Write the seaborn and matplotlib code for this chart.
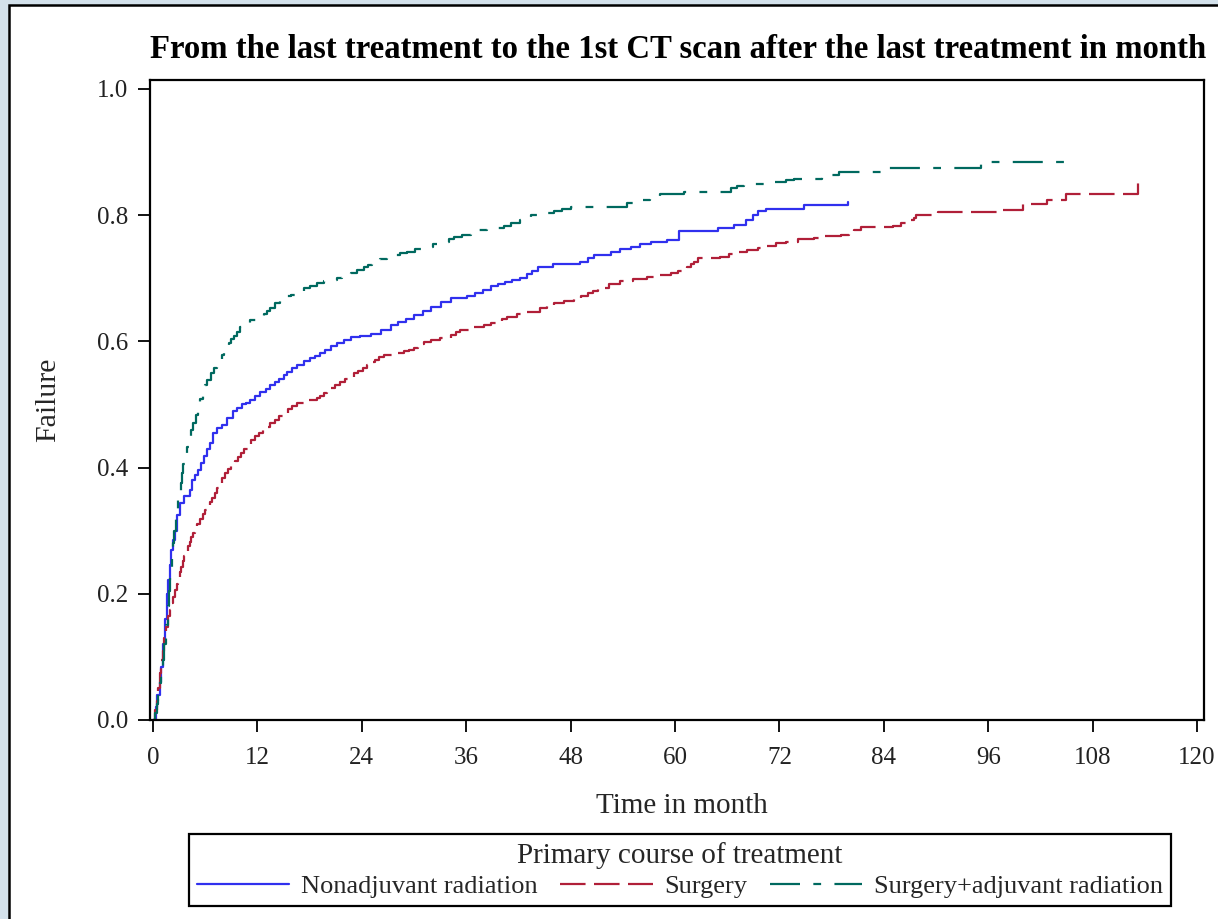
import numpy as np
import pandas as pd
import matplotlib
matplotlib.use("Agg")
import matplotlib.pyplot as plt
from matplotlib.lines import Line2D
from matplotlib.patches import Rectangle
import seaborn as sns

# ---------------- data ----------------
groups = ["Nonadjuvant radiation", "Surgery", "Surgery+adjuvant radiation"]

t_nonadj = [0, 0.3, 0.5, 0.75, 0.96, 1.2, 1.4, 1.6, 1.73, 1.9, 2.1, 2.3, 2.5, 2.8, 3.07, 3.6,
            4.2, 4.45, 4.8, 5.2, 5.5, 5.8, 6.2, 6.5, 6.9, 7.4, 7.9, 8.5, 9.2, 9.7, 10.2, 10.7,
            11.2, 11.7, 12.3, 13.0, 13.5, 14.0, 14.5, 15.0, 15.4, 16.0, 16.6, 17.3, 18.0,
            18.6, 19.2, 19.8, 20.5, 21.1, 21.9, 22.7, 23.8, 25.0, 26.2, 27.3, 28.2, 29.1,
            30.0, 31.0, 32.0, 33.1, 34.2, 36.1, 37.0, 37.9, 38.8, 39.7, 40.5, 41.3, 42.2,
            43.0, 43.6, 44.2, 46.0, 49.1, 50.0, 50.7, 52.6, 53.7, 54.9, 56.0, 57.2, 59.1,
            60.4, 64.9, 66.8, 68.1, 69.0, 69.5, 70.4, 74.8, 79.9]
f_nonadj = [0, 0.02, 0.04, 0.06, 0.084, 0.12, 0.16, 0.2, 0.222, 0.245, 0.27, 0.285, 0.30,
            0.325, 0.344, 0.355, 0.364, 0.38, 0.388, 0.396, 0.407, 0.418, 0.43, 0.439, 0.455,
            0.462, 0.468, 0.478, 0.49, 0.495, 0.50, 0.503, 0.507, 0.513, 0.52, 0.525, 0.53,
            0.535, 0.54, 0.546, 0.552, 0.558, 0.562, 0.568, 0.573, 0.577, 0.581, 0.586,
            0.592, 0.597, 0.602, 0.607, 0.609, 0.612, 0.618, 0.626, 0.63, 0.636, 0.642,
            0.648, 0.655, 0.662, 0.669, 0.671, 0.677, 0.682, 0.687, 0.69, 0.694, 0.697, 0.70,
            0.707, 0.712, 0.718, 0.722, 0.726, 0.732, 0.737, 0.742, 0.746, 0.75, 0.754, 0.758,
            0.761, 0.774, 0.779, 0.784, 0.792, 0.80, 0.806, 0.81, 0.816, 0.821]

t_surg = [0, 0.2, 0.4, 0.6, 0.8, 0.96, 1.1, 1.3, 1.5, 1.73, 1.9, 2.1, 2.3, 2.5, 2.7, 2.9, 3.1,
          3.26, 3.45, 3.6, 3.8, 4.03, 4.2, 4.4, 4.6, 4.8, 5.1, 5.4, 5.7, 5.95, 6.2, 6.5, 6.8,
          7.1, 7.35, 7.6, 7.9, 8.25, 8.6, 9.0, 9.4, 9.8, 10.1, 10.5, 10.9, 11.3, 11.7, 12.2,
          12.6, 13.1, 13.5, 14.0, 14.5, 15.0, 15.5, 16.0, 16.6, 17.3, 18.8, 19.2, 19.6, 20.0,
          20.4, 20.9, 21.5, 22.1, 22.7, 23.1, 23.6, 24.1, 24.6, 25.0, 25.5, 26.0, 26.5, 27.6,
          28.8, 29.4, 30.0, 30.5, 31.1, 32.0, 33.0, 34.2, 34.8, 35.3, 36.6, 38.0, 38.8, 39.5,
          40.1, 40.7, 41.8, 43.0, 44.5, 45.3, 46.1, 47.2, 48.4, 49.2, 50.0, 50.6, 51.1, 52.4,
          53.7, 55.2, 56.8, 58.1, 59.5, 60.3, 61.0, 61.4, 61.8, 62.2, 62.6, 65.2, 66.2, 67.2,
          68.3, 69.5, 70.4, 71.6, 72.7, 74.1, 76.0, 76.6, 79.1, 80.0, 80.6, 81.4, 85.0, 86.0,
          86.5, 87.5, 87.7, 90.2, 97.3, 100.0, 102.8, 104.9, 113.2]
f_surg = [0, 0.016, 0.03, 0.05, 0.075, 0.095, 0.11, 0.13, 0.148, 0.164, 0.175, 0.185, 0.195,
          0.206, 0.216, 0.226, 0.235, 0.243, 0.252, 0.26, 0.268, 0.275, 0.282, 0.29, 0.296,
          0.301, 0.31, 0.318, 0.326, 0.333, 0.339, 0.345, 0.352, 0.359, 0.367, 0.375, 0.383,
          0.391, 0.398, 0.405, 0.411, 0.417, 0.423, 0.43, 0.437, 0.444, 0.45, 0.455, 0.46,
          0.465, 0.47, 0.476, 0.481, 0.486, 0.492, 0.497, 0.502, 0.507, 0.51, 0.514, 0.518,
          0.522, 0.526, 0.53, 0.535, 0.54, 0.544, 0.549, 0.553, 0.558, 0.563, 0.567, 0.571,
          0.575, 0.578, 0.581, 0.584, 0.587, 0.59, 0.595, 0.599, 0.602, 0.605, 0.61, 0.614,
          0.618, 0.622, 0.626, 0.629, 0.632, 0.636, 0.639, 0.643, 0.647, 0.652, 0.656, 0.66,
          0.664, 0.668, 0.672, 0.676, 0.68, 0.684, 0.69, 0.695, 0.699, 0.702, 0.705, 0.708,
          0.711, 0.714, 0.718, 0.722, 0.726, 0.732, 0.734, 0.738, 0.742, 0.745, 0.748, 0.751,
          0.755, 0.758, 0.762, 0.763, 0.767, 0.769, 0.773, 0.777, 0.781, 0.783, 0.788, 0.792,
          0.796, 0.80, 0.805, 0.808, 0.817, 0.824, 0.834, 0.854]

t_adj = [0, 0.2, 0.4, 0.6, 0.8, 0.96, 1.1, 1.3, 1.5, 1.73, 1.85, 2.0, 2.15, 2.3, 2.45, 2.6,
         2.75, 2.88, 3.1, 3.2, 3.3, 3.5, 3.7, 3.95, 4.2, 4.4, 4.6, 4.9, 5.2, 5.45, 5.7, 5.95,
         6.2, 6.7, 7.0, 7.3, 7.6, 7.9, 8.2, 8.5, 8.75, 9.0, 9.3, 9.6, 10.0, 10.6, 11.2, 12.0,
         12.7, 13.1, 13.5, 14.0, 14.6, 15.2, 15.8, 16.5, 17.3, 18.0, 18.8, 19.7, 20.7, 21.2,
         21.7, 22.2, 22.7, 23.5, 24.2, 24.7, 25.2, 25.6, 26.1, 26.9, 27.7, 28.4, 29.2, 30.1,
         31.1, 32.2, 33.4, 34.0, 34.6, 35.5, 36.5, 37.4, 38.4, 40.3, 41.2, 42.2, 42.8, 43.4,
         44.8, 46.1, 47.0, 48.0, 50.3, 54.5, 55.2, 56.0, 57.1, 58.3, 61.0, 66.4, 67.1, 67.9,
         70.8, 72.7, 73.7, 76.9, 78.9, 84.2, 95.2, 96.3, 105.1]
f_adj = [0, 0.011, 0.025, 0.04, 0.058, 0.074, 0.095, 0.12, 0.15, 0.18, 0.205, 0.23, 0.255,
         0.28, 0.30, 0.32, 0.335, 0.349, 0.36, 0.375, 0.391, 0.405, 0.417, 0.433, 0.449,
         0.46, 0.47, 0.484, 0.497, 0.509, 0.52, 0.53, 0.539, 0.55, 0.558, 0.565, 0.572, 0.578,
         0.585, 0.592, 0.598, 0.603, 0.609, 0.615, 0.622, 0.628, 0.634, 0.639, 0.644, 0.648,
         0.652, 0.66, 0.668, 0.671, 0.674, 0.679, 0.684, 0.688, 0.692, 0.695, 0.697, 0.70,
         0.703, 0.706, 0.708, 0.713, 0.717, 0.721, 0.725, 0.728, 0.731, 0.734, 0.737, 0.74,
         0.742, 0.746, 0.75, 0.754, 0.758, 0.762, 0.765, 0.769, 0.772, 0.776, 0.779, 0.783,
         0.788, 0.792, 0.796, 0.80, 0.803, 0.806, 0.809, 0.812, 0.813, 0.819, 0.822, 0.824,
         0.829, 0.833, 0.837, 0.843, 0.846, 0.849, 0.852, 0.855, 0.857, 0.864, 0.868, 0.874,
         0.881, 0.884, 0.895]

x_ticks = [0, 12, 24, 36, 48, 60, 72, 84, 96, 108, 120]
y_ticks = [0.0, 0.2, 0.4, 0.6, 0.8, 1.0]

title = "From the last treatment to the 1st CT scan after the last treatment in month"
x_label = "Time in month"
y_label = "Failure"
legend_title = "Primary course of treatment"

# ---------------- styling ----------------
colors = {"Nonadjuvant radiation": "#3030EE",
          "Surgery": "#B01F38",
          "Surgery+adjuvant radiation": "#00695F"}
dashes = {"Nonadjuvant radiation": "",
          "Surgery": (11.5, 3.8),
          "Surgery+adjuvant radiation": (13.5, 6, 3.5, 6)}

sns.set_theme(style="white")
plt.rcParams["font.family"] = ["Liberation Serif", "DejaVu Serif"]

df = pd.concat([
    pd.DataFrame({"t": t_nonadj, "F": f_nonadj, "group": groups[0]}),
    pd.DataFrame({"t": t_surg, "F": f_surg, "group": groups[1]}),
    pd.DataFrame({"t": t_adj, "F": f_adj, "group": groups[2]}),
], ignore_index=True)

W, H = 1218, 919
fig = plt.figure(figsize=(W / 100, H / 100), dpi=100)
fig.patch.set_facecolor("#D3E1EB")
fig.patches.append(Rectangle((9 / W, -0.05), 1.2, 1 - 5 / H + 0.05,
                             transform=fig.transFigure, facecolor="white",
                             edgecolor="black", linewidth=1.8, zorder=-1))

ax = fig.add_axes([150 / W, 1 - 720 / H, (1204 - 150) / W, (720 - 80) / H])
ax.set_facecolor("white")

sns.lineplot(data=df, x="t", y="F", hue="group", style="group",
             palette=colors, dashes=dashes, hue_order=groups, style_order=groups,
             estimator=None, sort=False, drawstyle="steps-post",
             linewidth=1.6, legend=False, ax=ax)

ax.set_xlim(-0.35, 120.8)
ax.set_ylim(0, 1.014)
ax.set_xticks(x_ticks)
ax.set_xticklabels([str(v) for v in x_ticks])
ax.set_yticks(y_ticks)
ax.set_yticklabels([f"{v:.1f}" for v in y_ticks])
ax.tick_params(axis="both", direction="out", length=8.6, width=1.3, colors="black",
               labelsize=18, labelcolor="#222222")
ax.tick_params(axis="x", pad=11)
ax.tick_params(axis="y", pad=7)
ax.tick_params(left=True, bottom=True)
for s in ax.spines.values():
    s.set_visible(True)
    s.set_color("black")
    s.set_linewidth(1.6)
ax.set_xlabel("")
ax.set_ylabel("")

fig.text(678 / W, 1 - 49 / H, title, ha="center", va="center",
         fontsize=23.6, fontweight="bold", color="black")
fig.text(682 / W, 1 - 806 / H, x_label, ha="center", va="center", fontsize=21)
fig.text(48 / W, 1 - 400 / H, y_label, ha="center", va="center", rotation=90, fontsize=21.5)

handles = [Line2D([], [], color=colors[g], linewidth=1.6,
                  linestyle=(0, dashes[g]) if dashes[g] else "-") for g in groups]
leg = fig.legend(handles, groups, loc="center", bbox_to_anchor=(680 / W, 1 - 870 / H),
                 ncol=3, title=legend_title, fontsize=19, title_fontsize=21,
                 frameon=True, fancybox=False, edgecolor="black", framealpha=1,
                 handlelength=3.5, handletextpad=0.45, columnspacing=0.85,
                 borderpad=0.3, labelspacing=0.2, borderaxespad=0)
leg.get_frame().set_linewidth(1.6)

fig.savefig("out.png", dpi=100, facecolor=fig.get_facecolor())
